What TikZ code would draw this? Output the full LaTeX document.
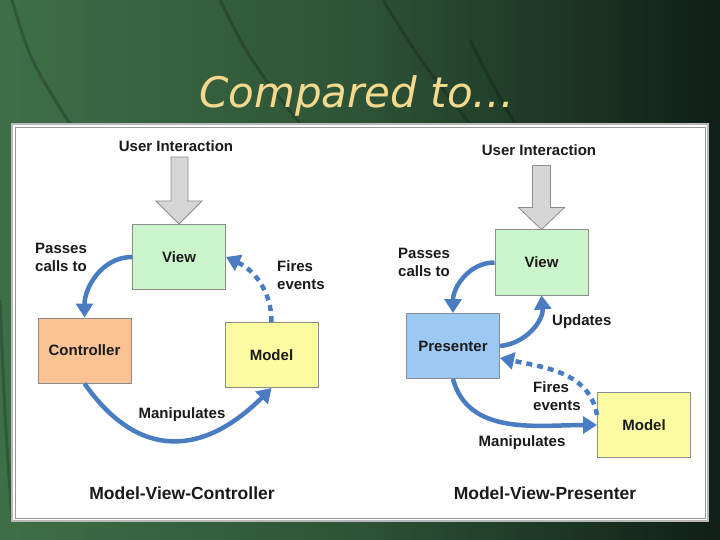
\documentclass[tikz,border=0pt]{standalone}
\usepackage{fontspec}
\newfontfamily\arialfont{Liberation Sans}
\newfontfamily\titlefont{DejaVu Sans}
\usetikzlibrary{arrows.meta,calc}

\definecolor{bglight}{HTML}{3E6F46}
\definecolor{bgdark}{HTML}{0F1F18}
\definecolor{titleyellow}{HTML}{F3DA8E}
\definecolor{boxline}{HTML}{8C8C8C}
\definecolor{textdark}{HTML}{1A1A1A}
\definecolor{flowblue}{HTML}{4A7CC2}
\definecolor{viewgreen}{HTML}{CBF5CB}
\definecolor{ctrlpeach}{HTML}{FAC393}
\definecolor{modelyellow}{HTML}{FBFBA2}
\definecolor{presblue}{HTML}{9CC9F3}
\definecolor{arrowgray}{HTML}{D6D6D6}

\tikzset{
  box/.style={draw=boxline, line width=1pt, minimum width=93pt, minimum height=65pt,
    font=\arialfont\bfseries\fontsize{15}{18}\selectfont, text=textdark},
  lbl/.style={font=\arialfont\bfseries\fontsize{15}{18}\selectfont, text=textdark,
    align=left, inner sep=0pt},
  caption/.style={font=\arialfont\bfseries\fontsize{17.5}{20}\selectfont, text=textdark, inner sep=0pt},
  flow/.style={draw=flowblue, line width=4.5pt, -{Triangle[length=14pt,width=17pt]}},
  events/.style={flow, dash pattern=on 6pt off 5pt},
  inputarrow/.style={draw=boxline, fill=arrowgray, line width=0.8pt, line join=miter},
  streak/.style={draw=black, opacity=0.2, line width=3pt}
}

\begin{document}
\begin{tikzpicture}[x=1pt,y=-1pt]
\useasboundingbox (0,0) rectangle (720,540);

% slide background
\shade[left color=bglight, right color=bgdark, middle color=bglight!65!bgdark] (0,0) rectangle (720,540);
\draw[streak] (12,0) .. controls (30,60) .. (70,124);
\draw[streak] (220,0) .. controls (250,60) .. (300,124);
\draw[streak] (383,0) .. controls (420,60) .. (470,124);
\draw[streak] (470,40) .. controls (490,80) .. (515,124);
\draw[streak] (0,300) .. controls (5,420) .. (12,520);

% title
\node[font=\titlefont\itshape\fontsize{42}{48}\selectfont, text=titleyellow, anchor=base]
  (title) at (357,108) {Compared to…};

% white panel
\draw[fill=white, draw=gray!55, line width=2pt] (12,124) rectangle (708,521);
\draw[draw=gray!80, line width=0.6pt] (15,127) rectangle (705,518);

% Model-View-Controller
\node[lbl] (mvcuser) at (176,146) {User Interaction};
\node[box, fill=viewgreen] (mvcview) at (179,257) {View};
\node[box, fill=ctrlpeach] (mvcctrl) at (84.5,350.5) {Controller};
\node[box, fill=modelyellow] (mvcmodel) at (271.5,355) {Model};
\draw[inputarrow] (mvcview.north) -- ++(-23,-23) -- ++(15,0) -- ++(0,-44) -- ++(17,0)
  -- ++(0,44) -- ++(14,0) -- cycle;
\draw[flow] (mvcview.west) to[out=180,in=90] (mvcctrl.north);
\draw[events] (mvcmodel.north) to[out=90,in=-25] (mvcview.east);
\draw[flow] (mvcctrl.south) to[out=-55,in=-135,looseness=1.3] (mvcmodel.south);
\node[lbl, anchor=west] (mvcpass) at (35,257) {Passes\\calls to};
\node[lbl, anchor=west] (mvcfires) at (277,275) {Fires\\events};
\node[lbl] (mvcmanip) at (182,415) {Manipulates};
\node[caption] (mvccap) at (182,493) {Model-View-Controller};

% Model-View-Presenter
\node[lbl] (mvpuser) at (539,150) {User Interaction};
\node[box, fill=viewgreen] (mvpview) at (541.5,262.5) {View};
\node[box, fill=presblue] (mvppres) at (453,346) {Presenter};
\node[box, fill=modelyellow] (mvpmodel) at (644,425) {Model};
\draw[inputarrow] (mvpview.north) -- ++(-23,-22) -- ++(14,0) -- ++(0,-42) -- ++(18,0)
  -- ++(0,42) -- ++(14,0) -- cycle;
\draw[flow] (mvpview.west) to[out=180,in=90] (mvppres.north);
\draw[flow] (mvppres.east) to[out=5,in=-85] (mvpview.south);
\draw[events] ([yshift=10pt]mvpmodel.west) to[out=100,in=-12] ([yshift=-12pt]mvppres.east);
\draw[flow] (mvppres.south) to[out=-75,in=180] (mvpmodel.west);
\node[lbl, anchor=west] (mvppass) at (398,262) {Passes\\calls to};
\node[lbl, anchor=west] (mvpupd) at (552,322) {Updates};
\node[lbl, anchor=west] (mvpfires) at (533,396) {Fires\\events};
\node[lbl] (mvpmanip) at (522,443) {Manipulates};
\node[caption] (mvpcap) at (545,493) {Model-View-Presenter};
\end{tikzpicture}
\end{document}
